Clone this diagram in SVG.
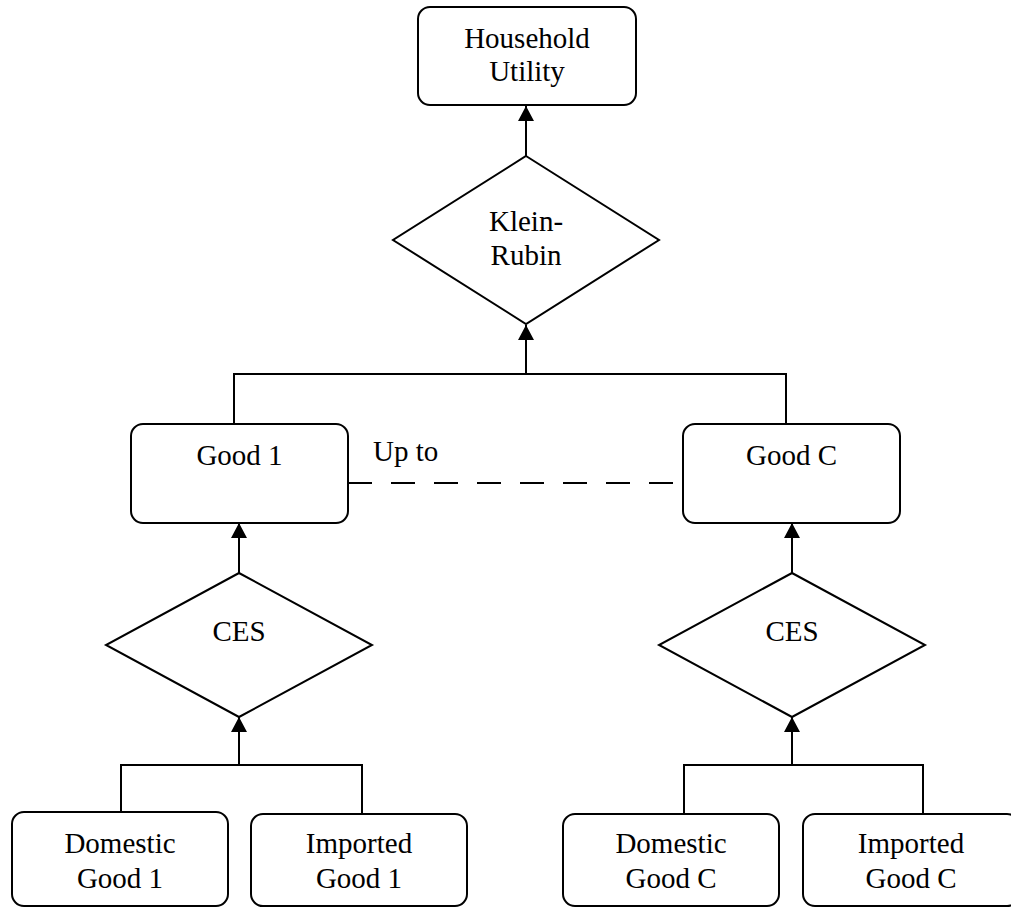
<svg xmlns="http://www.w3.org/2000/svg" width="1011" height="908" viewBox="0 0 1011 908">
  <style>
    .box { fill: #ffffff; stroke: #000000; stroke-width: 2; }
    .dia { fill: #ffffff; stroke: #000000; stroke-width: 2; }
    .lbl { font-family: "Liberation Serif", "Times New Roman", serif; font-size: 29px; fill: #000000; text-anchor: middle; }
    .wire { fill: none; stroke: #000000; stroke-width: 2; }
    .arrow { fill: none; stroke: #000000; stroke-width: 2; marker-end: url(#head); }
    .dash { fill: none; stroke: #000000; stroke-width: 2; stroke-dasharray: 24 19; }
  </style>
  <defs>
    <marker id="head" markerUnits="userSpaceOnUse" markerWidth="15" markerHeight="16" refX="15" refY="8" orient="auto" viewBox="0 0 15 16">
      <path d="M0,0 L15,8 L0,16 z" fill="#000000"/>
    </marker>
  </defs>
  <rect width="1011" height="908" fill="#ffffff"/>

  <!-- connectors -->
  <g id="connectors">
    <line class="arrow" x1="526" y1="156" x2="526" y2="106"/>
    <polyline class="wire" points="234,424 234,374 786,374 786,424"/>
    <line class="arrow" x1="526" y1="374" x2="526" y2="325"/>
    <line class="dash" x1="348" y1="483" x2="683" y2="483"/>
    <line class="arrow" x1="239" y1="573" x2="239" y2="523"/>
    <line class="arrow" x1="792" y1="573" x2="792" y2="523"/>
    <line class="arrow" x1="239" y1="765" x2="239" y2="717"/>
    <line class="arrow" x1="792" y1="765" x2="792" y2="717"/>
    <polyline class="wire" points="121,813 121,765 362,765 362,814"/>
    <polyline class="wire" points="684,814 684,765 923,765 923,814"/>
  </g>

  <g id="household-utility">
    <rect class="box" x="418" y="7" width="218" height="98" rx="12"/>
    <text class="lbl" x="527" y="48">Household</text>
    <text class="lbl" x="527" y="81">Utility</text>
  </g>

  <g id="klein-rubin">
    <polygon class="dia" points="526,156 659,240 526,324 393,240"/>
    <text class="lbl" x="526" y="231">Klein-</text>
    <text class="lbl" x="526" y="265">Rubin</text>
  </g>

  <g id="good-1">
    <rect class="box" x="131" y="424" width="217" height="99" rx="12"/>
    <text class="lbl" x="239.5" y="465">Good 1</text>
  </g>

  <g id="up-to">
    <text class="lbl" x="373" y="461" style="text-anchor: start;">Up to</text>
  </g>

  <g id="good-c">
    <rect class="box" x="683" y="424" width="217" height="99" rx="12"/>
    <text class="lbl" x="791.5" y="465">Good C</text>
  </g>

  <g id="ces-1">
    <polygon class="dia" points="239,573 372,645 239,717 106,645"/>
    <text class="lbl" x="239" y="641">CES</text>
  </g>

  <g id="ces-c">
    <polygon class="dia" points="792,573 925,645 792,717 659,645"/>
    <text class="lbl" x="792" y="641">CES</text>
  </g>

  <g id="domestic-good-1">
    <rect class="box" x="12" y="812" width="216" height="94" rx="12"/>
    <text class="lbl" x="120" y="853">Domestic</text>
    <text class="lbl" x="120" y="888">Good 1</text>
  </g>

  <g id="imported-good-1">
    <rect class="box" x="251" y="814" width="216" height="92" rx="12"/>
    <text class="lbl" x="359" y="853">Imported</text>
    <text class="lbl" x="359" y="888">Good 1</text>
  </g>

  <g id="domestic-good-c">
    <rect class="box" x="563" y="814" width="216" height="92" rx="12"/>
    <text class="lbl" x="671" y="853">Domestic</text>
    <text class="lbl" x="671" y="888">Good C</text>
  </g>

  <g id="imported-good-c">
    <rect class="box" x="803" y="814" width="216" height="92" rx="12"/>
    <text class="lbl" x="911" y="853">Imported</text>
    <text class="lbl" x="911" y="888">Good C</text>
  </g>
</svg>
